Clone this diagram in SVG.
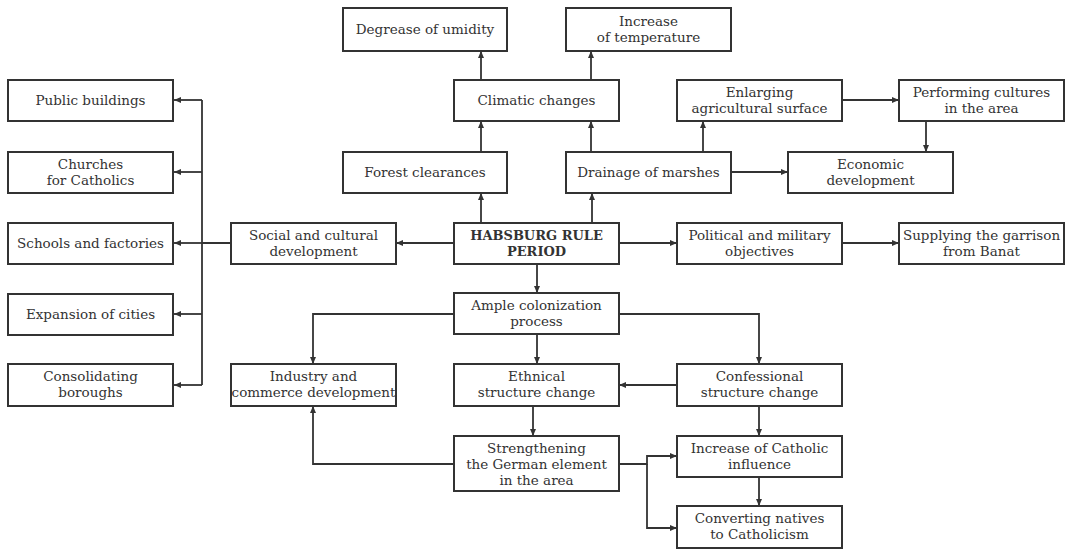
<svg xmlns="http://www.w3.org/2000/svg" width="1065" height="549" viewBox="0 0 1065 549">
<style>
.box{fill:#fff;stroke:#333;stroke-width:2}
text{font-family:"DejaVu Serif","Liberation Serif",serif;font-size:13.5px;fill:#333;text-anchor:middle}
.b{font-weight:bold;font-size:13px}
.c{fill:none;stroke:#333;stroke-width:1.8}
</style>
<defs>
<marker id="ah" markerUnits="userSpaceOnUse" markerWidth="8" markerHeight="6" refX="7" refY="3" orient="auto">
<path d="M0,0 L7,3 L0,6 z" fill="#333"/>
</marker>
</defs>
<rect width="1065" height="549" fill="#fff"/>
<g id="connectors">
<path class="c" d="M454,243 H396" marker-end="url(#ah)"/>
<path class="c" d="M619,243 H677" marker-end="url(#ah)"/>
<path class="c" d="M231,243 H202 M202,100 V385"/>
<path class="c" d="M202,100 H174" marker-end="url(#ah)"/>
<path class="c" d="M202,172 H174" marker-end="url(#ah)"/>
<path class="c" d="M202,243 H174" marker-end="url(#ah)"/>
<path class="c" d="M202,314 H174" marker-end="url(#ah)"/>
<path class="c" d="M202,385 H174" marker-end="url(#ah)"/>
<path class="c" d="M481,223 V193" marker-end="url(#ah)"/>
<path class="c" d="M592,223 V193" marker-end="url(#ah)"/>
<path class="c" d="M481,152 V121" marker-end="url(#ah)"/>
<path class="c" d="M591,152 V121" marker-end="url(#ah)"/>
<path class="c" d="M481,80 V51" marker-end="url(#ah)"/>
<path class="c" d="M591,80 V51" marker-end="url(#ah)"/>
<path class="c" d="M703,152 V121" marker-end="url(#ah)"/>
<path class="c" d="M731,172 H788" marker-end="url(#ah)"/>
<path class="c" d="M842,100 H899" marker-end="url(#ah)"/>
<path class="c" d="M926,121 V152" marker-end="url(#ah)"/>
<path class="c" d="M842,243 H899" marker-end="url(#ah)"/>
<path class="c" d="M537,264 V293" marker-end="url(#ah)"/>
<path class="c" d="M454,314 H313 V364" marker-end="url(#ah)"/>
<path class="c" d="M619,314 H759 V364" marker-end="url(#ah)"/>
<path class="c" d="M537,334 V364" marker-end="url(#ah)"/>
<path class="c" d="M677,385 H619" marker-end="url(#ah)"/>
<path class="c" d="M533,406 V436" marker-end="url(#ah)"/>
<path class="c" d="M454,464 H313 V406" marker-end="url(#ah)"/>
<path class="c" d="M619,464 H647 V456 H677" marker-end="url(#ah)"/>
<path class="c" d="M647,464 V528 H677" marker-end="url(#ah)"/>
<path class="c" d="M759,406 V436" marker-end="url(#ah)"/>
<path class="c" d="M759,477 V506" marker-end="url(#ah)"/>
</g>
<g id="pub"><rect class="box" x="8" y="80" width="165" height="41"/><text x="90.5" y="105">Public buildings</text></g>
<g id="churches"><rect class="box" x="8" y="152" width="165" height="41"/><text x="90.5" y="169">Churches</text><text x="90.5" y="185">for Catholics</text></g>
<g id="schools"><rect class="box" x="8" y="223" width="165" height="41"/><text x="90.5" y="248">Schools and factories</text></g>
<g id="expansion"><rect class="box" x="8" y="294" width="165" height="41"/><text x="90.5" y="319">Expansion of cities</text></g>
<g id="consolidating"><rect class="box" x="8" y="364" width="165" height="42"/><text x="90.5" y="381">Consolidating</text><text x="90.5" y="397">boroughs</text></g>
<g id="social"><rect class="box" x="231" y="223" width="165" height="41"/><text x="313.5" y="240">Social and cultural</text><text x="313.5" y="256">development</text></g>
<g id="industry"><rect class="box" x="231" y="364" width="165" height="42"/><text x="313.5" y="381">Industry and</text><text x="313.5" y="397">commerce development</text></g>
<g id="degrease"><rect class="box" x="343" y="8" width="164" height="43"/><text x="425" y="34">Degrease of umidity</text></g>
<g id="increase-temp"><rect class="box" x="566" y="8" width="165" height="43"/><text x="648.5" y="26">Increase</text><text x="648.5" y="42">of temperature</text></g>
<g id="climatic"><rect class="box" x="454" y="80" width="165" height="41"/><text x="536.5" y="105">Climatic changes</text></g>
<g id="forest"><rect class="box" x="343" y="152" width="164" height="41"/><text x="425" y="177">Forest clearances</text></g>
<g id="drainage"><rect class="box" x="566" y="152" width="165" height="41"/><text x="648.5" y="177">Drainage of marshes</text></g>
<g id="enlarging"><rect class="box" x="677" y="80" width="165" height="41"/><text x="759.5" y="97">Enlarging</text><text x="759.5" y="113">agricultural surface</text></g>
<g id="performing"><rect class="box" x="899" y="80" width="165" height="41"/><text x="981.5" y="97">Performing cultures</text><text x="981.5" y="113">in the area</text></g>
<g id="economic"><rect class="box" x="788" y="152" width="165" height="41"/><text x="870.5" y="169">Economic</text><text x="870.5" y="185">development</text></g>
<g id="habsburg"><rect class="box" x="454" y="223" width="165" height="41"/><text class="b" x="536.5" y="240">HABSBURG RULE</text><text class="b" x="536.5" y="256">PERIOD</text></g>
<g id="political"><rect class="box" x="677" y="223" width="165" height="41"/><text x="759.5" y="240">Political and military</text><text x="759.5" y="256">objectives</text></g>
<g id="supplying"><rect class="box" x="899" y="223" width="165" height="41"/><text x="981.5" y="240">Supplying the garrison</text><text x="981.5" y="256">from Banat</text></g>
<g id="ample"><rect class="box" x="454" y="293" width="165" height="41"/><text x="536.5" y="310">Ample colonization</text><text x="536.5" y="326">process</text></g>
<g id="ethnical"><rect class="box" x="454" y="364" width="165" height="42"/><text x="536.5" y="381">Ethnical</text><text x="536.5" y="397">structure change</text></g>
<g id="confessional"><rect class="box" x="677" y="364" width="165" height="42"/><text x="759.5" y="381">Confessional</text><text x="759.5" y="397">structure change</text></g>
<g id="strengthening"><rect class="box" x="454" y="436" width="165" height="55"/><text x="536.5" y="453">Strengthening</text><text x="536.5" y="469">the German element</text><text x="536.5" y="485">in the area</text></g>
<g id="catholic"><rect class="box" x="677" y="436" width="165" height="41"/><text x="759.5" y="453">Increase of Catholic</text><text x="759.5" y="469">influence</text></g>
<g id="converting"><rect class="box" x="677" y="506" width="165" height="42"/><text x="759.5" y="523">Converting natives</text><text x="759.5" y="539">to Catholicism</text></g>
</svg>
